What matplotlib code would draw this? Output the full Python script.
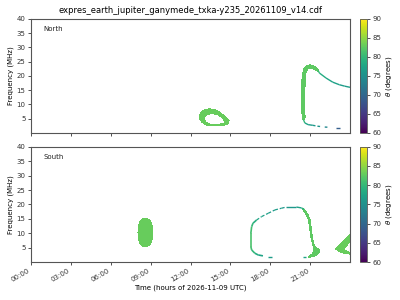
import matplotlib
matplotlib.use("Agg")
import matplotlib.pyplot as plt
from matplotlib.collections import LineCollection
from matplotlib.colors import Normalize
from matplotlib.cm import ScalarMappable

# ---------------- data (hours, MHz, theta in degrees) ----------------
title = "expres_earth_jupiter_ganymede_txka-y235_20261109_v14.cdf"
tick_hours = [0, 3, 6, 9, 12, 15, 18, 21]
tick_labels = ["00:00", "03:00", "06:00", "09:00", "12:00", "15:00", "18:00", "21:00"]
freq_ticks = [5, 10, 15, 20, 25, 30, 35, 40]
theta_ticks = [60, 65, 70, 75, 80, 85, 90]

# North: filled loop near 13-15 h (outer boundary and hole)
n_loop_outer_h = [12.65, 12.75, 13.0, 13.4, 13.8, 14.2, 14.6, 14.9, 14.85, 14.5, 13.8, 13.2, 12.85, 12.7]
n_loop_outer_f = [5.8, 7.0, 8.0, 8.45, 8.2, 7.2, 5.8, 4.4, 3.2, 2.7, 2.55, 2.7, 3.8, 4.8]
n_loop_hole_h = [13.15, 13.3, 13.6, 14.0, 14.35, 14.45, 14.1, 13.5, 13.2]
n_loop_hole_f = [5.2, 6.1, 6.4, 6.0, 4.8, 3.8, 3.4, 3.4, 4.1]
n_loop_theta = 83.0

# North: thick vertical band near 20.5 h
n_band_h = [20.45, 20.35, 20.33, 20.36, 20.42, 20.55, 20.75, 21.0, 21.25, 21.5, 21.65,
            21.6, 21.3, 21.0, 20.8, 20.68, 20.62, 20.58, 20.6, 20.62, 20.6]
n_band_f = [4.6, 8.0, 12.0, 17.0, 20.5, 22.6, 23.6, 23.9, 23.6, 22.7, 21.9,
            21.6, 22.4, 22.8, 22.4, 21.0, 17.0, 12.0, 8.0, 5.5, 4.6]
n_band_theta = 82.5

# North: thin descending line after the peak
n_tail_h = [21.6, 21.7, 22.2, 22.7, 23.2, 23.6, 24.0]
n_tail_f = [21.9, 21.0, 19.25, 17.8, 16.9, 16.4, 16.0]
n_tail_theta = [80.0, 78.5, 77.5, 77.0, 76.5, 76.5]

# North: thin lower branch
n_low_h = [20.5, 20.6, 20.85, 21.2, 21.4]
n_low_f = [4.65, 3.5, 2.9, 2.66, 2.5]
n_low_theta = [80.0, 77.5, 76.5, 76.0]
n_dash_h = [[21.55, 21.75], [22.1, 22.3], [22.95, 23.25]]
n_dash_f = [[2.35, 2.25], [2.05, 2.0], [1.75, 1.75]]
n_dash_theta = [75.5, 74.0, 69.0]

# South: blob near 8.6 h
s_blob_h = [8.6, 8.85, 9.02, 9.12, 9.15, 9.12, 9.02, 8.85, 8.6, 8.35, 8.18, 8.08, 8.05, 8.08, 8.18, 8.35]
s_blob_f = [15.2, 14.9, 14.0, 12.5, 10.3, 8.2, 6.6, 5.7, 5.4, 5.7, 6.6, 8.2, 10.3, 12.5, 14.0, 14.9]
s_blob_theta = 83.0

# South: big loop, thin left arc (solid) and top arc (broken)
s_left_h = [17.45, 17.1, 16.84, 16.6, 16.54, 16.54, 16.6, 16.7, 16.97]
s_left_f = [2.2, 2.5, 3.1, 4.25, 5.4, 10.0, 12.3, 13.5, 14.6]
s_left_theta = [77.5, 78.5, 80.0, 81.0, 81.5, 81.0, 80.0, 79.0]
s_top_h = [16.97, 17.35, 17.85, 18.35, 18.85, 19.2]
s_top_f = [14.6, 15.8, 16.95, 18.1, 18.7, 19.1]
s_top_theta = [77.5, 77.0, 76.5, 76.5, 76.0]
s_peak_h = [19.2, 19.97, 20.35, 20.55]
s_peak_f = [19.1, 19.1, 18.8, 18.3]
s_peak_theta = [76.0, 77.0, 79.0]
s_arc_dash_h = [[17.85, 18.1], [20.45, 20.7]]
s_arc_dash_f = [[1.9, 1.9], [1.75, 1.75]]
s_arc_dash_theta = [76.5, 77.0]

# South: thick descending band on the right of the loop
s_band_h = [20.5, 20.6, 20.85, 21.0, 21.1, 21.2, 21.35, 21.7, 21.65, 21.35, 21.0, 20.85,
            20.95, 21.2, 21.3, 21.1, 20.98, 20.88, 20.7, 20.45]
s_band_f = [18.5, 18.1, 16.4, 14.6, 11.2, 7.7, 5.4, 4.25, 3.1, 2.2, 1.73, 1.73,
            2.3, 3.0, 4.3, 7.7, 11.2, 14.6, 16.6, 18.2]
s_band_theta = 82.5

# South: wedge at the right edge
s_wedge_h = [22.93, 23.3, 23.65, 24.0, 24.0, 23.7, 23.55, 23.75, 24.0, 24.0, 23.6, 23.2]
s_wedge_f = [4.6, 6.3, 8.0, 9.6, 7.2, 5.5, 4.5, 3.7, 3.4, 2.8, 3.1, 3.7]
s_wedge_theta = 83.0

# ---------------- figure ----------------
cmap = plt.get_cmap("viridis")
norm = Normalize(vmin=60, vmax=90)
FS = 5

fig = plt.figure(figsize=(4, 3), dpi=100)
ax1 = fig.add_axes([0.0775, 0.557, 0.7975, 0.380])
ax2 = fig.add_axes([0.0775, 0.126, 0.7975, 0.385])
cax1 = fig.add_axes([0.90, 0.557, 0.0175, 0.380])
cax2 = fig.add_axes([0.90, 0.126, 0.0175, 0.385])


def fill_shape(ax, hs, fs, theta):
    ax.fill(hs, fs, color=cmap(norm(theta)), lw=0, antialiased=False)


def colored_line(ax, hs, fs, thetas, lw=1.0, ls="solid"):
    segs = [[(hs[i], fs[i]), (hs[i + 1], fs[i + 1])] for i in range(len(hs) - 1)]
    lc = LineCollection(segs, cmap=cmap, norm=norm, linewidths=lw, capstyle="butt", linestyles=ls)
    lc.set_array(thetas)
    ax.add_collection(lc)


# North
fill_shape(ax1, n_loop_outer_h, n_loop_outer_f, n_loop_theta)
ax1.fill(n_loop_hole_h, n_loop_hole_f, color="white", lw=0, antialiased=False)
fill_shape(ax1, n_band_h, n_band_f, n_band_theta)
colored_line(ax1, n_tail_h, n_tail_f, n_tail_theta)
colored_line(ax1, n_low_h, n_low_f, n_low_theta)
for hh, ff, tt in zip(n_dash_h, n_dash_f, n_dash_theta):
    colored_line(ax1, hh, ff, [tt])

# South
fill_shape(ax2, s_blob_h, s_blob_f, s_blob_theta)
colored_line(ax2, s_left_h, s_left_f, s_left_theta, lw=1.2)
colored_line(ax2, s_top_h, s_top_f, s_top_theta, lw=0.9, ls=(0, (2.5, 1.5)))
colored_line(ax2, s_peak_h, s_peak_f, s_peak_theta, lw=1.0)
for hh, ff, tt in zip(s_arc_dash_h, s_arc_dash_f, s_arc_dash_theta):
    colored_line(ax2, hh, ff, [tt])
fill_shape(ax2, s_band_h, s_band_f, s_band_theta)
fill_shape(ax2, s_wedge_h, s_wedge_f, s_wedge_theta)

edge = "#555555"
for ax, lab in [(ax1, "North"), (ax2, "South")]:
    ax.set_xlim(0, 24)
    ax.set_ylim(0, 40)
    ax.set_yticks(freq_ticks)
    ax.set_xticks(tick_hours)
    ax.set_ylabel("Frequency (MHz)", fontsize=FS, labelpad=2)
    ax.tick_params(labelsize=FS, length=2.5, width=0.6, pad=1.5, colors="#333333")
    for s in ax.spines.values():
        s.set_color(edge)
        s.set_linewidth(0.8)
    ax.text(0.038, 0.91, lab, transform=ax.transAxes, fontsize=FS, va="center", ha="left", color="#222222")

ax1.set_xticklabels([])
ax2.set_xticklabels(tick_labels, rotation=30, ha="right")
ax2.set_xlabel("Time (hours of 2026-11-09 UTC)", fontsize=FS, labelpad=1)
ax1.set_title(title, fontsize=6, pad=4)

for cax in (cax1, cax2):
    sm = ScalarMappable(norm=norm, cmap=cmap)
    cb = fig.colorbar(sm, cax=cax, ticks=theta_ticks)
    cb.set_label(r"$\theta$ (degrees)", fontsize=FS, labelpad=2)
    cb.ax.tick_params(labelsize=FS, length=2.5, width=0.6, pad=1.5, colors="#333333")
    cb.outline.set_edgecolor(edge)
    cb.outline.set_linewidth(0.6)

fig.savefig("out.png", dpi=100)
